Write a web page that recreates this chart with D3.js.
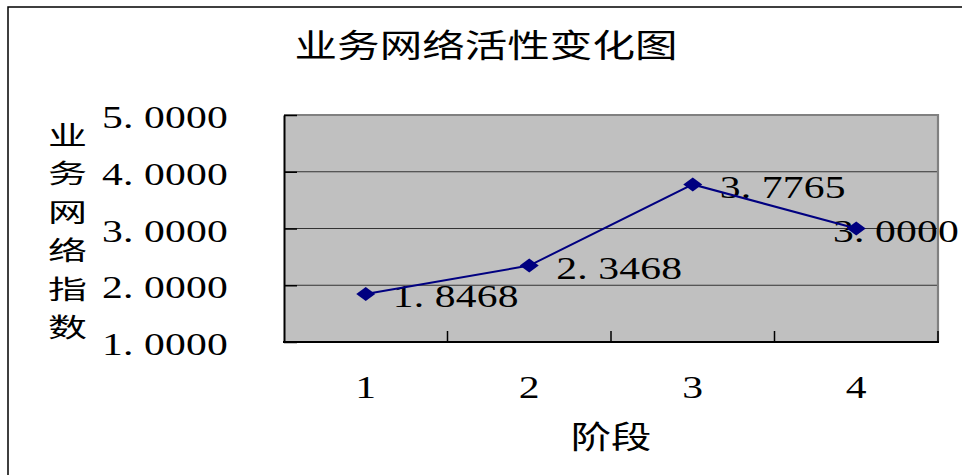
<!DOCTYPE html>
<html>
<head>
<meta charset="utf-8">
<script src="https://cdn.jsdelivr.net/npm/d3@7/dist/d3.min.js"></script>
<style>
  html, body { margin: 0; padding: 0; background: #fff; }
  svg { display: block; }
</style>
</head>
<body>
<svg id="chart" width="962" height="475"></svg>
<script>
// ---- data ----
const categories = ["1", "2", "3", "4"];
const values = [1.8468, 2.3468, 3.7765, 3.0000];
const yTicks = [1, 2, 3, 4, 5];
const titleText = "业务网络活性变化图";
const yTitleText = "业务网络指数";
const xTitleText = "阶段";

// ---- layout ----
const W = 962, H = 475;
const plot = { left: 284, right: 938, top: 115, bottom: 342 };
const SX = 1.3;            // horizontal stretch of all text
const NUM_FONT = "'Liberation Serif', 'DejaVu Serif', serif";
const CJK_FONT = "'Noto Sans CJK SC', 'Noto Sans CJK JP', sans-serif";
const NUM_SIZE = 32;
const CELL = 21;           // width of each character cell for numbers
const fmt = d3.format(".4f");

const svg = d3.select("#chart");

// outer chart border
svg.append("rect")
  .attr("x", 8).attr("y", 7)
  .attr("width", 1000).attr("height", 520)
  .attr("fill", "#fff").attr("stroke", "#000").attr("stroke-width", 1.5);

const x = d3.scaleBand().domain(categories).range([plot.left, plot.right]).padding(0);
const y = d3.scaleLinear().domain([1, 5]).range([plot.bottom, plot.top]);

// plot area
svg.append("rect")
  .attr("x", plot.left).attr("y", plot.top)
  .attr("width", plot.right - plot.left).attr("height", plot.bottom - plot.top)
  .attr("fill", "#c0c0c0");

// gridlines
svg.append("g").selectAll("line")
  .data(yTicks.filter(d => d > 1 && d < 5))
  .join("line")
  .attr("x1", plot.left).attr("x2", plot.right)
  .attr("y1", d => y(d)).attr("y2", d => y(d))
  .attr("stroke", "#333").attr("stroke-width", 1.2);

// top & right border (gray)
svg.append("path")
  .attr("d", `M${plot.left},${plot.top}H${plot.right}V${plot.bottom}`)
  .attr("fill", "none").attr("stroke", "#808080").attr("stroke-width", 2.2);

// helper: place characters in fixed cells, stretched horizontally
function cellXs(str) {
  return Array.from(str).map((c, i) => (i * CELL / SX).toFixed(2)).join(" ");
}

// y axis
const yAxisG = svg.append("g")
  .attr("transform", `translate(${plot.left},0)`)
  .call(d3.axisLeft(y).tickValues(yTicks).tickFormat(fmt).tickSizeInner(-13).tickSizeOuter(0));
yAxisG.select(".domain").attr("stroke", "#000").attr("stroke-width", 2);
yAxisG.selectAll(".tick line").attr("stroke", "#000").attr("stroke-width", 1.5);
yAxisG.selectAll(".tick text").each(function(d) {
  const s = fmt(d);
  const right = 228 - plot.left;
  const start = right - s.length * CELL;
  d3.select(this)
    .attr("x", cellXs(s))
    .attr("y", null).attr("dy", null)
    .attr("text-anchor", "start")
    .attr("transform", `translate(${start},12.5) scale(${SX},1)`)
    .attr("fill", "#000")
    .style("font-family", NUM_FONT)
    .style("font-size", NUM_SIZE + "px");
});

// x axis
const xAxisG = svg.append("g")
  .attr("transform", `translate(0,${plot.bottom})`)
  .call(d3.axisBottom(x).tickSize(0).tickSizeOuter(0));
xAxisG.select(".domain").attr("stroke", "#000").attr("stroke-width", 2)
  .attr("d", `M${plot.left - 1},0H${plot.right + 1}`);
xAxisG.selectAll(".tick text")
  .attr("y", null).attr("dy", null)
  .attr("transform", `translate(0,56) scale(${SX},1)`)
  .attr("text-anchor", "middle")
  .attr("fill", "#000")
  .style("font-family", NUM_FONT)
  .style("font-size", NUM_SIZE + "px");

// boundary ticks (between categories)
svg.append("g").selectAll("line")
  .data(categories)
  .join("line")
  .attr("x1", d => x(d) + x.bandwidth()).attr("x2", d => x(d) + x.bandwidth())
  .attr("y1", plot.bottom).attr("y2", plot.bottom - 11)
  .attr("stroke", "#000").attr("stroke-width", 1.5);

// data
const pts = categories.map((c, i) => ({ c, v: values[i], px: x(c) + x.bandwidth() / 2, py: y(values[i]) }));

// labels
const chartRight = 960;
svg.append("g").selectAll("text")
  .data(pts)
  .join("text")
  .attr("x", d => cellXs(fmt(d.v)))
  .attr("transform", d => {
    const s = fmt(d.v);
    const w = s.length * CELL;
    let sx = d.px + 27;
    if (sx + w > chartRight) sx = chartRight - w - 1;
    return `translate(${sx},${d.py + 13.5}) scale(${SX},1)`;
  })
  .attr("fill", "#000")
  .style("font-family", NUM_FONT)
  .style("font-size", NUM_SIZE + "px")
  .text(d => fmt(d.v));

// line
svg.append("path")
  .datum(pts)
  .attr("d", d3.line().x(d => d.px).y(d => d.py))
  .attr("fill", "none").attr("stroke", "#000080").attr("stroke-width", 2);

// markers (diamonds)
svg.append("g").selectAll("path")
  .data(pts)
  .join("path")
  .attr("d", d => `M${d.px - 9.5},${d.py}L${d.px},${d.py - 7}L${d.px + 9.5},${d.py}L${d.px},${d.py + 7}Z`)
  .attr("fill", "#000080");

// title
svg.append("text")
  .attr("transform", `translate(486,43) scale(1.33,1)`)
  .attr("text-anchor", "middle")
  .attr("dominant-baseline", "central")
  .attr("fill", "#000")
  .style("font-family", CJK_FONT)
  .style("font-size", "32px")
  .text(titleText);

// y title (stacked characters, one text element)
const yTitleTop = 134, yTitleStep = 38.4;
svg.append("text")
  .attr("transform", `translate(67.5,0) scale(1.5,1)`)
  .attr("text-anchor", "middle")
  .attr("dominant-baseline", "central")
  .attr("fill", "#000")
  .style("font-family", CJK_FONT)
  .style("font-size", "26px")
  .selectAll("tspan")
  .data(Array.from(yTitleText))
  .join("tspan")
  .attr("x", 0)
  .attr("y", (d, i) => yTitleTop + i * yTitleStep)
  .attr("dominant-baseline", "central")
  .text(d => d);

// x title
svg.append("text")
  .attr("transform", `translate(${(plot.left + plot.right) / 2},434) scale(${SX},1)`)
  .attr("text-anchor", "middle")
  .attr("dominant-baseline", "central")
  .attr("fill", "#000")
  .style("font-family", CJK_FONT)
  .style("font-size", "31px")
  .text(xTitleText);
</script>
</body>
</html>
